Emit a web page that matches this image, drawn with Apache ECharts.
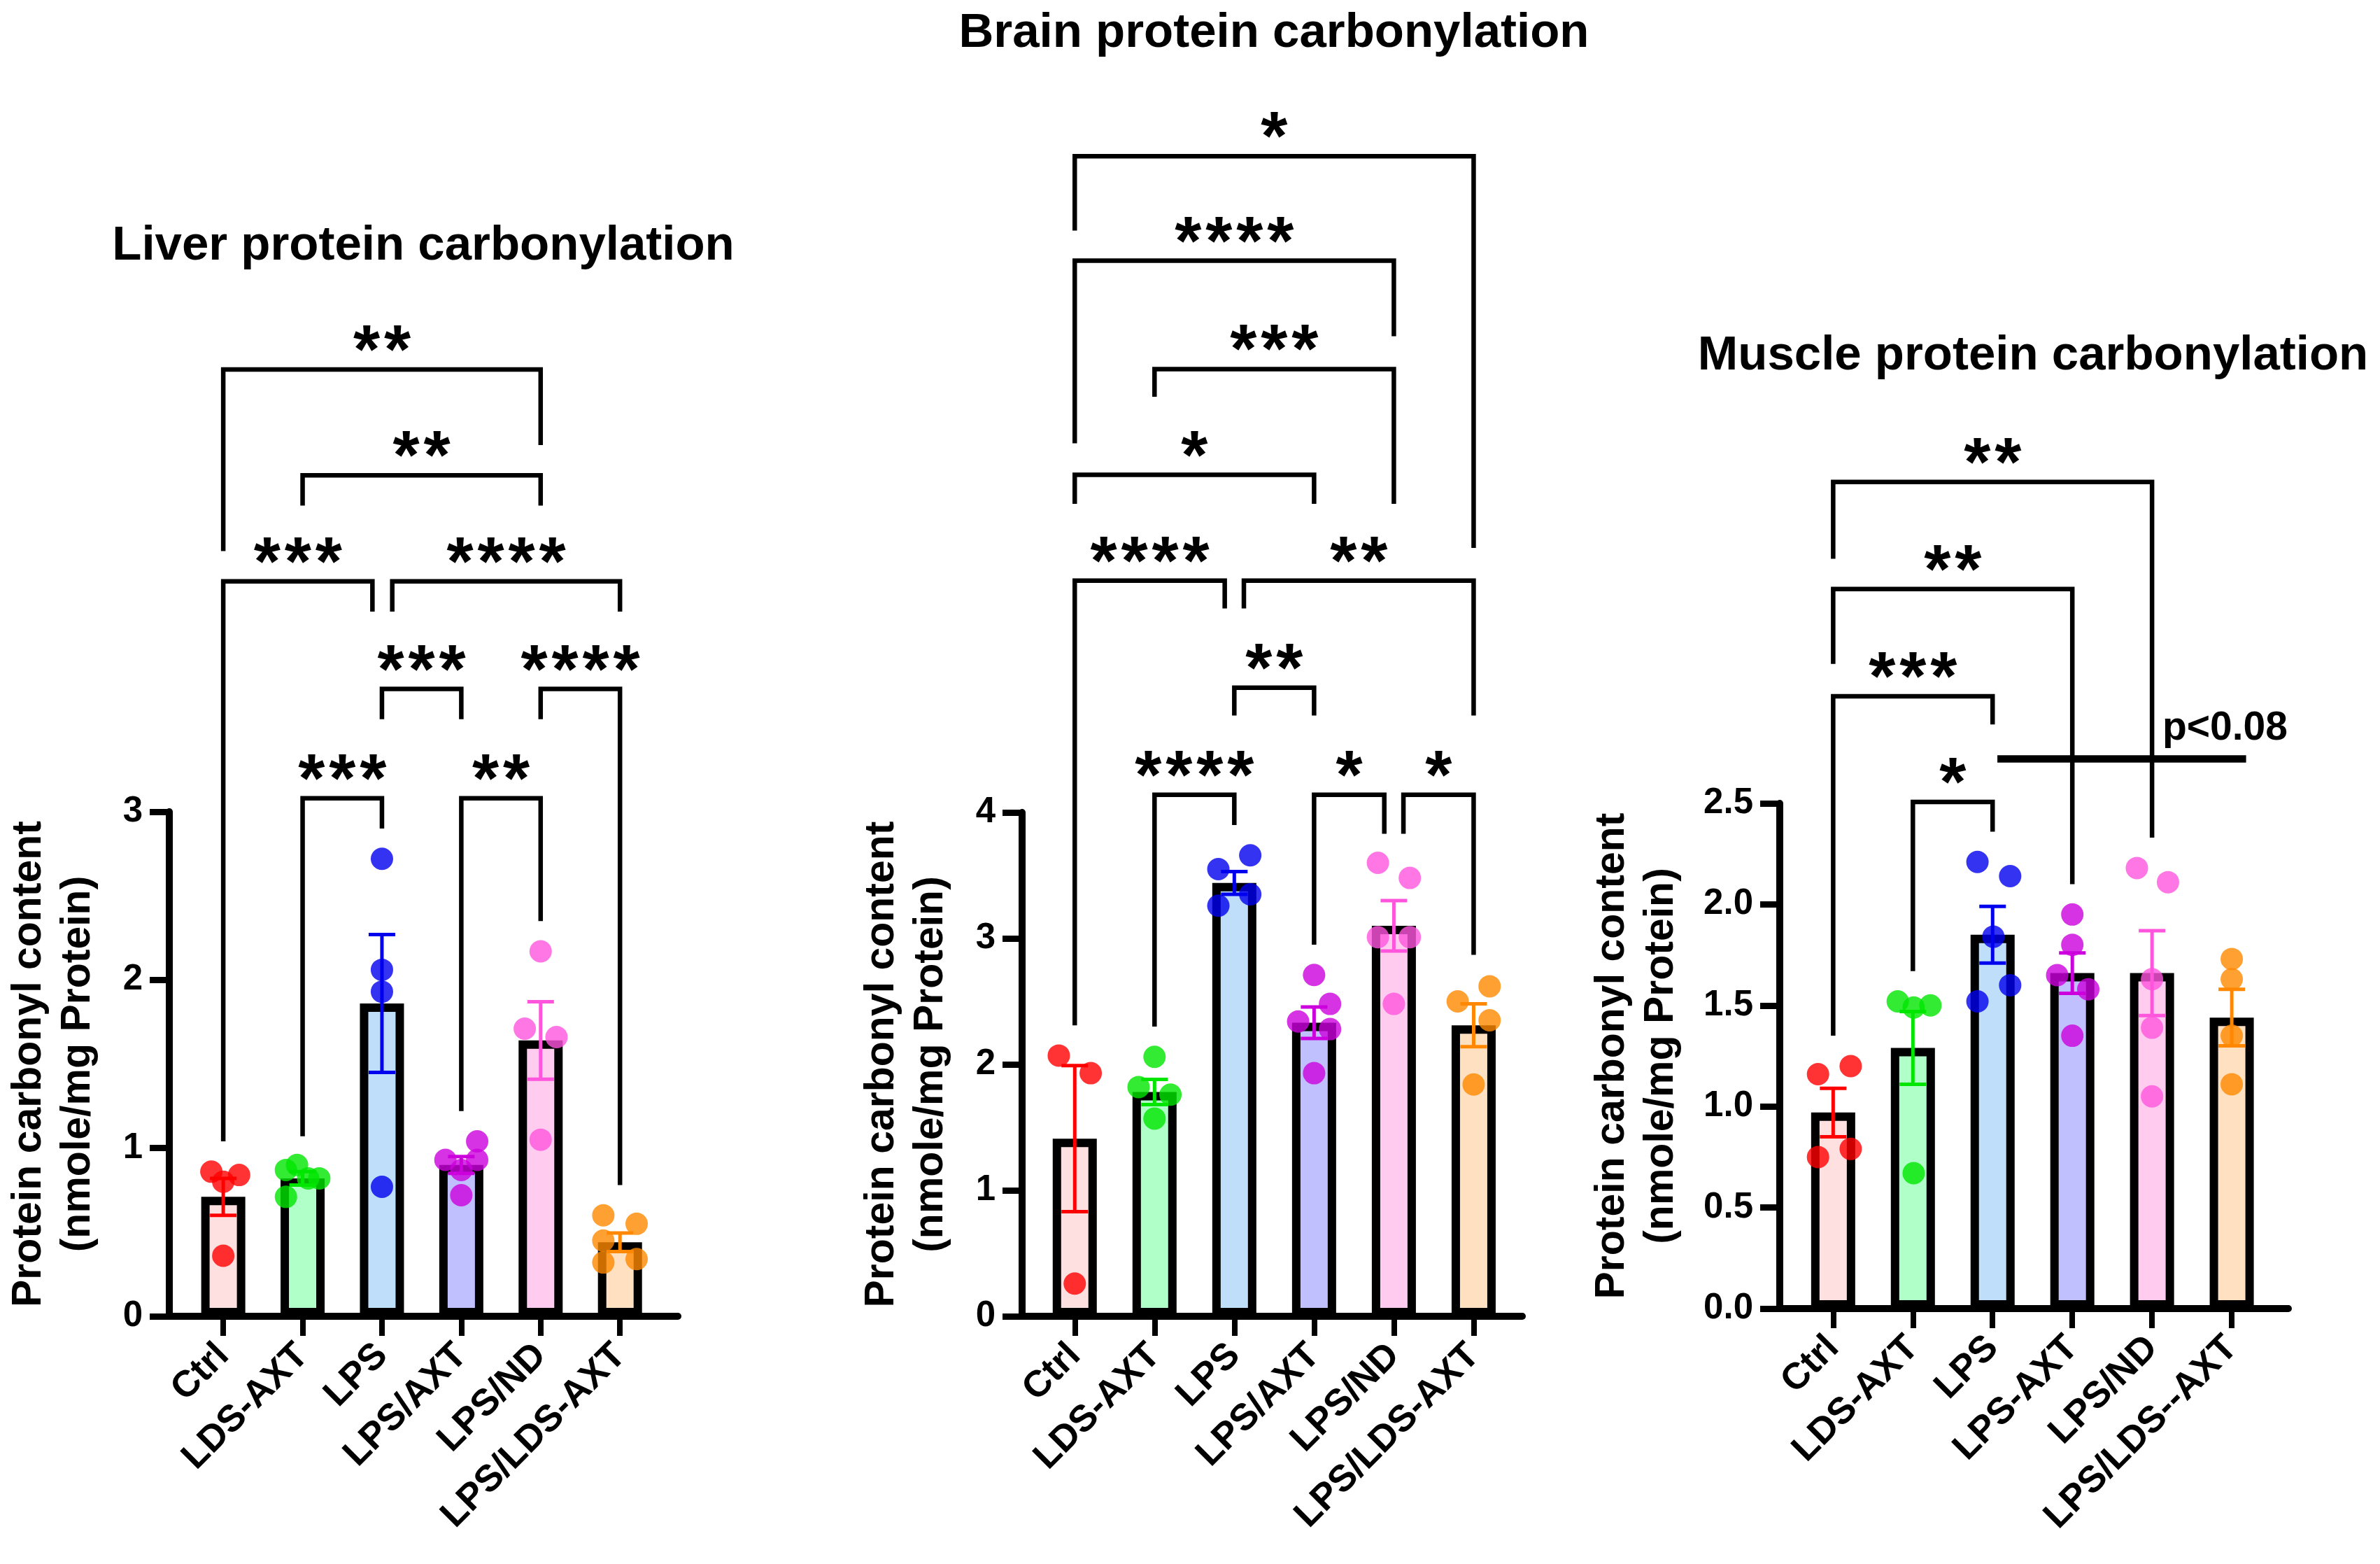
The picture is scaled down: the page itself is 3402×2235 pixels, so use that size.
<!DOCTYPE html>
<html><head><meta charset="utf-8">
<script src="https://cdn.jsdelivr.net/npm/echarts@6/dist/echarts.min.js"></script>
<style>html,body{margin:0;padding:0;background:#fff}#c{width:3402px;height:2235px}</style>
</head><body><div id="c"></div>
<script>
const FONT = "'Liberation Sans', Arial, Helvetica, sans-serif";

// ---------- categories ----------
const liverCategories = ['Ctrl', 'LDS-AXT', 'LPS', 'LPS/AXT', 'LPS/ND', 'LPS/LDS-AXT'];
const brainCategories = ['Ctrl', 'LDS-AXT', 'LPS', 'LPS/AXT', 'LPS/ND', 'LPS/LDS-AXT'];
const muscleCategories = ['Ctrl', 'LDS-AXT', 'LPS', 'LPS-AXT', 'LPS/ND', 'LPS/LDS--AXT'];

// ---------- colours ----------
const barFills = ['#FFE0E0', '#B0FFC8', '#BEDEFA', '#C0C0FF', '#FFCCF0', '#FFE0C0'];
const dotColors = ['#FF0000', '#00E600', '#0000EE', '#CC00DD', '#FF55DD', '#FF8800'];

// ---------- Liver ----------
const liverMeans = [0.71, 0.82, 1.86, 0.90, 1.64, 0.44];
const liverSEM = [0.11, 0.04, 0.41, 0.05, 0.23, 0.055];
const liverValues = [
  [0.86, 0.80, 0.84, 0.36],
  [0.87, 0.90, 0.82, 0.82, 0.71],
  [2.72, 2.06, 1.93, 0.77],
  [0.93, 0.93, 1.04, 0.87, 0.72],
  [2.17, 1.71, 1.66, 1.05],
  [0.60, 0.55, 0.45, 0.32, 0.34]
];
const liverJitter = [
  [-0.15, 0, 0.2, 0],
  [-0.21, -0.07, 0.07, 0.21, -0.21],
  [0, 0, 0, 0],
  [-0.2, 0.2, 0.2, 0, 0],
  [0, -0.2, 0.2, 0],
  [-0.21, 0.21, -0.21, -0.21, 0.21]
];
// [left group, right group, bar level, left leg end, right leg end, label, left shift, right shift]
const liverBrackets = [
  [0, 4, 5.63, 4.55, 5.18, '**', 0, 0],
  [1, 4, 5.00, 4.82, 4.82, '**', 0, 0],
  [0, 2, 4.37, 1.04, 4.19, '***', 0, -0.12],
  [2, 5, 4.37, 4.19, 4.19, '****', 0.13, 0],
  [2, 3, 3.73, 3.55, 3.55, '***', 0, 0],
  [4, 5, 3.73, 3.55, 0.78, '****', 0, 0],
  [1, 2, 3.08, 1.07, 2.90, '***', 0, 0],
  [3, 4, 3.08, 1.22, 2.35, '**', 0, 0]
];

// ---------- Brain ----------
const brainMeans = [1.41, 1.78, 3.44, 2.33, 3.10, 2.31];
const brainSEM = [0.58, 0.10, 0.09, 0.125, 0.20, 0.17];
const brainValues = [
  [2.07, 1.93, 0.26],
  [2.06, 1.82, 1.76, 1.57],
  [3.66, 3.55, 3.35, 3.26],
  [2.71, 2.48, 2.34, 2.28, 1.93],
  [3.60, 3.48, 3.01, 3.01, 2.48],
  [2.62, 2.50, 2.35, 1.84]
];
const brainJitter = [
  [-0.2, 0.2, 0],
  [0, -0.2, 0.2, 0],
  [0.2, -0.2, 0.2, -0.2],
  [0, 0.2, -0.2, 0.2, 0],
  [-0.2, 0.2, -0.2, 0.2, 0],
  [0.2, -0.2, 0.2, 0]
];
const brainBrackets = [
  [0, 5, 9.21, 8.62, 6.10, '*', 0, 0],
  [0, 4, 8.38, 6.93, 7.78, '****', 0, 0],
  [1, 4, 7.52, 7.30, 6.45, '***', 0, 0],
  [0, 3, 6.68, 6.45, 6.45, '*', 0, 0],
  [0, 2, 5.84, 2.31, 5.62, '****', 0, -0.12],
  [2, 5, 5.84, 5.62, 4.77, '**', 0.12, 0],
  [2, 3, 4.99, 4.77, 4.77, '**', 0, 0],
  [1, 2, 4.14, 2.30, 3.90, '****', 0, 0],
  [3, 4, 4.14, 2.95, 3.83, '*', 0, -0.12],
  [4, 5, 4.14, 3.83, 2.87, '*', 0.12, 0]
];

// ---------- Muscle ----------
const muscleMeans = [0.97, 1.29, 1.85, 1.66, 1.66, 1.44];
const muscleSEM = [0.12, 0.18, 0.14, 0.10, 0.21, 0.14];
const muscleValues = [
  [1.16, 1.20, 0.75, 0.79],
  [1.52, 1.49, 1.50, 0.67],
  [2.21, 2.14, 1.84, 1.60, 1.52],
  [1.95, 1.80, 1.65, 1.58, 1.35],
  [2.18, 2.11, 1.63, 1.39, 1.05],
  [1.73, 1.63, 1.35, 1.11]
];
const muscleJitter = [
  [-0.19, 0.22, -0.19, 0.22],
  [-0.19, 0.01, 0.22, 0.01],
  [-0.19, 0.22, 0.01, 0.22, -0.19],
  [0, 0, -0.19, 0.2, 0],
  [-0.19, 0.2, 0, 0, 0],
  [0, 0, 0, 0]
];
const muscleBrackets = [
  [0, 4, 4.09, 3.71, 2.33, '**', 0, 0],
  [0, 3, 3.56, 3.19, 2.10, '**', 0, 0],
  [0, 2, 3.03, 1.35, 2.89, '***', 0, 0],
  [1, 2, 2.507, 1.67, 2.36, '*', 0, 0]
];
// trend annotation: [from x, to x, level, label, label x, label level]
const muscleTrend = [2.06, 5.18, 2.72, 'p<0.08', 4.13, 2.87];

const yName = 'Protein carbonyl content\n(nmole/mg Protein)';

const panels = [
  { title: 'Liver protein carbonylation', titleX: 605, titleY: 352,
    categories: liverCategories, means: liverMeans, sem: liverSEM, values: liverValues, jitter: liverJitter,
    brackets: liverBrackets, trend: null,
    left: 242, top: 1160, width: 727, height: 721, xMin: -0.68, xMax: 5.73,
    yMax: 3, yStep: 1, decimals: 0, bracketTop: 6.5, nameGap: 95 },
  { title: 'Brain protein carbonylation', titleX: 1821, titleY: 48,
    categories: brainCategories, means: brainMeans, sem: brainSEM, values: brainValues, jitter: brainJitter,
    brackets: brainBrackets, trend: null,
    left: 1461, top: 1161, width: 715, height: 720, xMin: -0.66, xMax: 5.61,
    yMax: 4, yStep: 1, decimals: 0, bracketTop: 10, nameGap: 95 },
  { title: 'Muscle protein carbonylation', titleX: 2906, titleY: 509,
    categories: muscleCategories, means: muscleMeans, sem: muscleSEM, values: muscleValues, jitter: muscleJitter,
    brackets: muscleBrackets, trend: muscleTrend,
    left: 2544, top: 1148, width: 727, height: 722, xMin: -0.67, xMax: 5.71,
    yMax: 2.5, yStep: 0.5, decimals: 1, bracketTop: 4.5, nameGap: 134 }
];

const option = { animation: false, backgroundColor: '#ffffff', grid: [], xAxis: [], yAxis: [], series: [], graphic: [] };
const ticks = [0, 1, 2, 3, 4, 5];

panels.forEach(p => {
  const gi = option.grid.length;
  const bottom = p.top + p.height;
  const oh = p.height * p.bracketTop / p.yMax;
  option.grid.push({ left: p.left, top: p.top, width: p.width, height: p.height });
  option.grid.push({ left: p.left, top: bottom - oh, width: p.width, height: oh });
  const xi = option.xAxis.length, yi = option.yAxis.length;
  option.xAxis.push({
    gridIndex: gi, type: 'value', min: p.xMin, max: p.xMax,
    axisLine: { show: true, onZero: false, lineStyle: { color: '#000', width: 10 } },
    axisTick: { show: true, customValues: ticks, length: 28, lineStyle: { color: '#000', width: 8 } },
    axisLabel: { show: true, customValues: ticks, formatter: v => p.categories[Math.round(v)],
      rotate: 45, margin: 48, fontSize: 53, fontWeight: 'bold', color: '#000', fontFamily: FONT, hideOverlap: false },
    splitLine: { show: false }
  });
  option.xAxis.push({ gridIndex: gi + 1, type: 'value', min: p.xMin, max: p.xMax, show: false });
  option.yAxis.push({
    gridIndex: gi, type: 'value', min: 0, max: p.yMax, interval: p.yStep,
    axisLine: { show: true, onZero: false, lineStyle: { color: '#000', width: 10 } },
    axisTick: { show: true, length: 28, lineStyle: { color: '#000', width: 9 } },
    axisLabel: { margin: 38, fontSize: 51, fontWeight: 'bold', color: '#000', fontFamily: FONT,
      formatter: v => v.toFixed(p.decimals) },
    splitLine: { show: false },
    name: yName, nameLocation: 'middle', nameGap: p.nameGap,
    nameTextStyle: { fontSize: 59, fontWeight: 'bold', color: '#000', fontFamily: FONT, lineHeight: 70, align: 'center' }
  });
  option.yAxis.push({ gridIndex: gi + 1, type: 'value', min: 0, max: p.bracketTop, show: false });

  // bars
  option.series.push({
    type: 'bar', xAxisIndex: xi, yAxisIndex: yi, barWidth: 63, z: 2,
    data: p.means.map((m, i) => ({ value: [i, m], itemStyle: { color: barFills[i], borderColor: '#000', borderWidth: 12 } }))
  });
  // error bars (SEM)
  option.series.push({
    type: 'custom', xAxisIndex: xi, yAxisIndex: yi, z: 3, clip: false,
    encode: { x: 0, y: 1 },
    data: p.means.map((m, i) => [i, m, p.sem[i]]),
    renderItem: (params, api) => {
      const x = api.value(0), m = api.value(1), s = api.value(2);
      const a = api.coord([x, m + s]), b = api.coord([x, m - s]);
      const c = dotColors[params.dataIndex], hw = 19, lw = 5;
      return { type: 'group', children: [
        { type: 'line', shape: { x1: a[0], y1: a[1], x2: b[0], y2: b[1] }, style: { stroke: c, lineWidth: lw } },
        { type: 'line', shape: { x1: a[0] - hw, y1: a[1], x2: a[0] + hw, y2: a[1] }, style: { stroke: c, lineWidth: lw } },
        { type: 'line', shape: { x1: b[0] - hw, y1: b[1], x2: b[0] + hw, y2: b[1] }, style: { stroke: c, lineWidth: lw } }
      ] };
    }
  });
  // individual points
  const pts = [];
  p.values.forEach((arr, i) => arr.forEach((v, k) => {
    pts.push({ value: [i + p.jitter[i][k], v], itemStyle: { color: dotColors[i] } });
  }));
  option.series.push({ type: 'scatter', xAxisIndex: xi, yAxisIndex: yi, z: 4, symbol: 'circle', symbolSize: 32, data: pts });

  // significance brackets on overlay grid
  option.series.push({
    type: 'custom', xAxisIndex: xi + 1, yAxisIndex: yi + 1, z: 5, clip: false,
    data: p.brackets.map((b, k) => [k]),
    renderItem: (params, api) => {
      const b = p.brackets[params.dataIndex];
      const xl = b[0] + b[6], xr = b[1] + b[7];
      const p1 = api.coord([xl, b[3]]), p2 = api.coord([xl, b[2]]), p3 = api.coord([xr, b[2]]), p4 = api.coord([xr, b[4]]);
      const children = [{ type: 'polyline', shape: { points: [p1, p2, p3, p4] },
        style: { stroke: '#000', lineWidth: 6.5, fill: null, lineJoin: 'miter', lineCap: 'butt' } }];
      const n = b[5].length, cx = (p2[0] + p3[0]) / 2, pitch = 44;
      for (let k = 0; k < n; k++) {
        children.push({ type: 'text', x: cx + (k - (n - 1) / 2) * pitch, y: p2[1] - 22,
          style: { text: '*', fontSize: 98, fontWeight: 'bold', fontFamily: FONT, fill: '#000', align: 'center', verticalAlign: 'middle' } });
      }
      return { type: 'group', children };
    }
  });
  if (p.trend) {
    const t = p.trend;
    option.series.push({
      type: 'custom', xAxisIndex: xi + 1, yAxisIndex: yi + 1, z: 5, clip: false,
      data: [[0]],
      renderItem: (params, api) => {
        const a = api.coord([t[0], t[2]]), b = api.coord([t[1], t[2]]), l = api.coord([t[4], t[5]]);
        return { type: 'group', children: [
          { type: 'line', shape: { x1: a[0], y1: a[1], x2: b[0], y2: b[1] }, style: { stroke: '#000', lineWidth: 10.5 } },
          { type: 'text', x: l[0], y: l[1], style: { text: t[3], fontSize: 57, fontWeight: 'bold', fontFamily: FONT, fill: '#000', align: 'left', verticalAlign: 'middle' } }
        ] };
      }
    });
  }
  option.graphic.push({ type: 'text', x: p.titleX, y: p.titleY,
    style: { text: p.title, fontSize: 69, fontWeight: 'bold', fontFamily: FONT, fill: '#000', align: 'center', verticalAlign: 'middle' } });
});

const chart = echarts.init(document.getElementById('c'), null, { renderer: 'canvas' });
chart.setOption(option);
</script>
</body></html>
